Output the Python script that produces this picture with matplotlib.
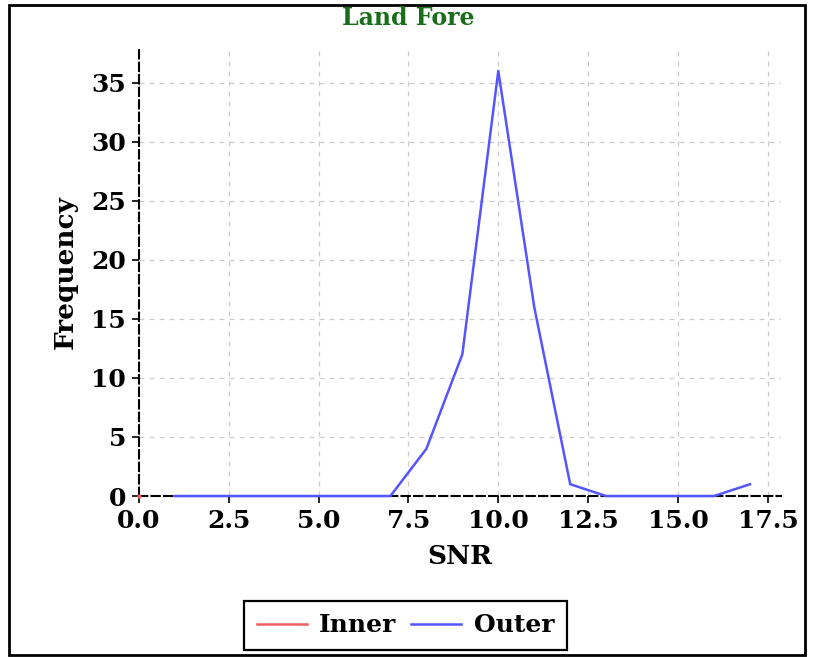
import matplotlib
matplotlib.use("Agg")
import matplotlib.pyplot as plt
from matplotlib.patches import Rectangle
from matplotlib.lines import Line2D

# data
snr_outer = [1, 2, 3, 4, 5, 6, 7, 8, 9, 10, 11, 12, 13, 14, 15, 16, 17]
freq_outer = [0, 0, 0, 0, 0, 0, 0, 4, 12, 36, 16, 1, 0, 0, 0, 0, 1]
snr_inner = [0]
freq_inner = [0]

x_ticks = [0.0, 2.5, 5.0, 7.5, 10.0, 12.5, 15.0, 17.5]
y_ticks = [0, 5, 10, 15, 20, 25, 30, 35]

plt.rcParams['font.family'] = ['DejaVu Serif']
plt.rcParams['font.weight'] = 'bold'

fig = plt.figure(figsize=(8.16, 6.57), dpi=100)
ax = fig.add_axes([0.170, 0.245, 0.787, 0.683])

red = '#f06060'
blue = '#5555ff'
ax.plot(snr_inner, freq_inner, color=red, lw=1.6, marker='o', ms=2, zorder=3,
        clip_on=False)
ax.plot(snr_outer, freq_outer, color=blue, lw=1.8, zorder=3, clip_on=False)

ax.set_xlim(0, 17.86)
ax.set_ylim(0, 38)
ax.set_xticks(x_ticks)
ax.set_yticks(y_ticks)
ax.set_xticklabels([f"{t:.1f}" for t in x_ticks], fontsize=18, fontweight='bold')
ax.set_yticklabels([str(t) for t in y_ticks], fontsize=18, fontweight='bold')
ax.tick_params(direction='out', length=5, width=1.2, pad=4)
ax.grid(True, linestyle=(0, (4, 4)), color='#cccccc', lw=0.9)

for s in ['top', 'right']:
    ax.spines[s].set_visible(False)
for s in ['left', 'bottom']:
    ax.spines[s].set_linestyle((0, (4, 2)))
    ax.spines[s].set_linewidth(1.5)
    ax.spines[s].set_color('black')

ax.set_xlabel('SNR', fontsize=19, fontweight='bold', labelpad=8)
ax.set_ylabel('Frequency', fontsize=19, fontweight='bold', labelpad=10)
fig.text(0.5, 0.973, 'Land Fore', ha='center', va='center', fontsize=17,
         fontweight='bold', color='#1a6e1a')

handles = [Line2D([], [], color=red, lw=1.8), Line2D([], [], color=blue, lw=1.8)]
leg = fig.legend(handles, ['Inner', 'Outer'], loc='lower center',
                 bbox_to_anchor=(0.497, -0.008),
                 ncol=2, frameon=True, fancybox=False, edgecolor='black',
                 framealpha=1.0,
                 prop={'size': 18, 'weight': 'bold'}, handlelength=2.0,
                 columnspacing=0.6, handletextpad=0.5, borderpad=0.5)
leg.get_frame().set_linewidth(1.6)

fig.patches.append(Rectangle((0.011, 0.003), 0.976, 0.99, transform=fig.transFigure,
                             fill=False, edgecolor='black', lw=2))

fig.savefig('out.png', dpi=100)
